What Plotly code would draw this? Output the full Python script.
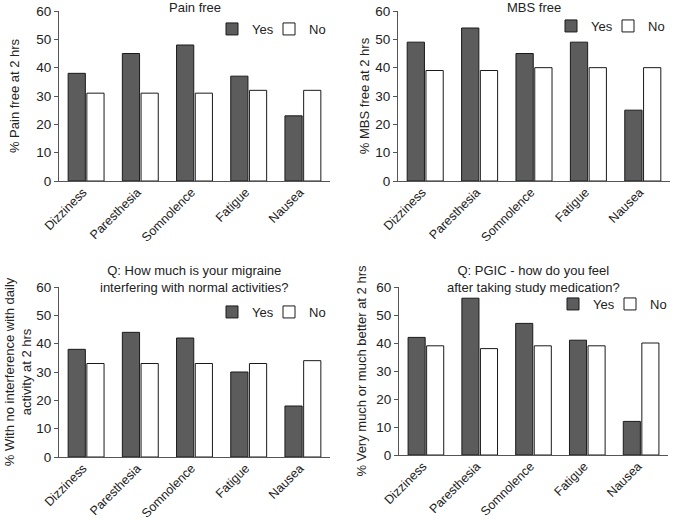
import plotly.graph_objects as go

categories = ["Dizziness", "Paresthesia", "Somnolence", "Fatigue", "Nausea"]

pain_yes = [38, 45, 48, 37, 23]
pain_no = [31, 31, 31, 32, 32]
mbs_yes = [49, 54, 45, 49, 25]
mbs_no = [39, 39, 40, 40, 40]
interf_yes = [38, 44, 42, 30, 18]
interf_no = [33, 33, 33, 33, 34]
pgic_yes = [42, 56, 47, 41, 12]
pgic_no = [39, 38, 39, 39, 40]

titles = ["Pain free", "MBS free",
          "Q: How much is your migraine<br>interfering with normal activities?",
          "Q: PGIC - how do you feel<br>after taking study medication?"]
ytitles = ["% Pain free at 2 hrs", "% MBS free at 2 hrs",
           "% With no interference with daily<br>activity at 2 hrs",
           "% Very much or much better at 2 hrs"]
yticks = [0, 10, 20, 30, 40, 50, 60]

panels = [(pain_yes, pain_no), (mbs_yes, mbs_no), (interf_yes, interf_no), (pgic_yes, pgic_no)]

W, H = 680, 520
# pixel boxes: (left, right, top, bottom)
boxes = [(59, 330, 11, 181), (398, 670, 11, 181), (59, 330, 287, 457), (399, 668, 287, 455)]
standoffs = [13, 2, 1, 6]
title_shift = [6, 6, 10, 10]
# legend anchor x (px) for Yes / No entries, and legend row centre y
leg_pos = [((212, 269), 29), ((551, 608), 26), ((212, 269), 312), ((553, 610), 304)]

FONT = "Liberation Sans, Arial, Helvetica, sans-serif"
TXT = "#222222"
AX = "#555555"
DARK = "#5c5c5c"

fig = go.Figure()
layout = dict(
    width=W, height=H, margin=dict(l=0, r=0, t=0, b=0),
    paper_bgcolor="white", plot_bgcolor="white",
    font=dict(family=FONT, size=13, color=TXT),
    bargap=0.31, bargroupgap=0.08, barmode="group",
    showlegend=True,
    annotations=[],
)

for i, ((yes, no), (l, r, t, b)) in enumerate(zip(panels, boxes)):
    n = i + 1
    xa = "x" if n == 1 else f"x{n}"
    ya = "y" if n == 1 else f"y{n}"
    lg_yes = "legend" if i == 0 else f"legend{2 * i + 1}"
    lg_no = f"legend{2 * i + 2}"
    fig.add_trace(go.Bar(x=categories, y=yes, name="Yes", xaxis=xa, yaxis=ya,
                         marker=dict(color=DARK, line=dict(color="#1a1a1a", width=1)),
                         legend=lg_yes, showlegend=True))
    fig.add_trace(go.Bar(x=categories, y=no, name="No", xaxis=xa, yaxis=ya,
                         marker=dict(color="white", line=dict(color="#1a1a1a", width=1)),
                         legend=lg_no, showlegend=True))
    xd = [l / W, r / W]
    yd = [1 - b / H, 1 - t / H]
    layout[f"xaxis{'' if n == 1 else n}"] = dict(
        domain=xd, anchor=ya, showline=True, linecolor=AX, linewidth=1.2,
        ticks="", tickangle=-45, showgrid=False, automargin=False,
        ticklabelshift=-3, ticklabelstandoff=-2,
        tickfont=dict(size=12.5, color=TXT))
    layout[f"yaxis{'' if n == 1 else n}"] = dict(
        domain=yd, anchor=xa, range=[0, 60], tickvals=yticks,
        showline=True, linecolor=AX, linewidth=1.2, ticks="outside",
        ticklen=4, tickcolor=AX, showgrid=False, zeroline=False, automargin=False,
        tickfont=dict(size=13.5, color=TXT),
        title=dict(text=ytitles[i], font=dict(size=13, color=TXT), standoff=standoffs[i]))
    (sx_yes, sx_no), ly = leg_pos[i]
    for lg, sx in ((lg_yes, sx_yes), (lg_no, sx_no)):
        layout[lg] = dict(orientation="h", x=sx / W, y=1 - ly / H,
                          xanchor="left", yanchor="middle", bgcolor="rgba(0,0,0,0)",
                          font=dict(size=13, color=TXT), itemwidth=30)
    cx = (l + r) / 2 / W
    layout["annotations"].append(dict(
        text=titles[i], x=cx, y=1 - (t + title_shift[i]) / H,
        xref="paper", yref="paper", xanchor="center", yanchor="bottom",
        showarrow=False, font=dict(size=13, color=TXT)))

fig.update_layout(**layout)
fig.write_html("out.html", config={"displayModeBar": False},
               post_script="document.body.style.margin='0';")
